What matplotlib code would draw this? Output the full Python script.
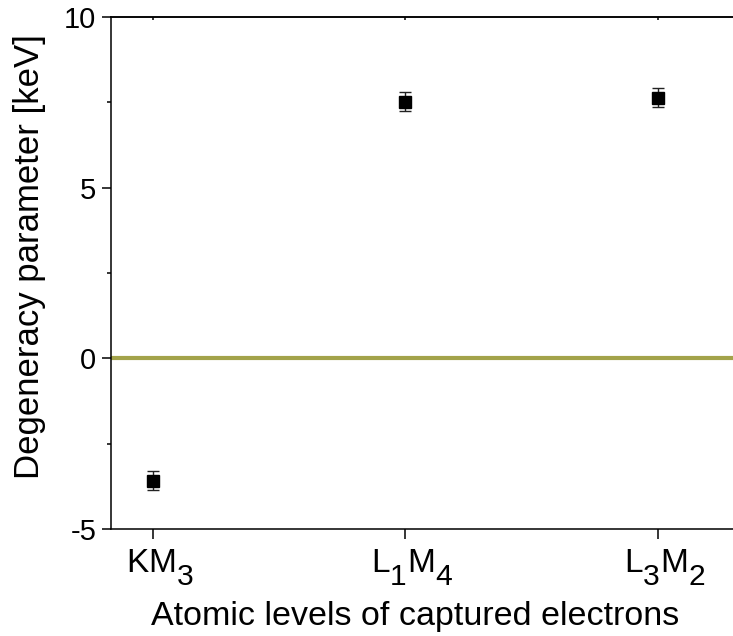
import matplotlib
matplotlib.use("Agg")
import matplotlib.pyplot as plt
import matplotlib._mathtext as _mt
from matplotlib.ticker import MultipleLocator
from matplotlib.transforms import ScaledTranslation

plt.rcParams['font.family'] = ['Liberation Sans', 'DejaVu Sans']
plt.rcParams['mathtext.fontset'] = 'custom'
plt.rcParams['mathtext.rm'] = 'Liberation Sans'
plt.rcParams['mathtext.it'] = 'Liberation Sans'
plt.rcParams['axes.unicode_minus'] = False

# Large, low-set subscripts for the level names
_mt.SHRINK_FACTOR = 0.9
_mt.FontConstantsBase.sub1 = 0.75

# Degeneracy parameter per pair of captured-electron levels
levels = [r'$\mathregular{KM_3}$', r'$\mathregular{L_1M_4}$', r'$\mathregular{L_3M_2}$']
degeneracy_kev = [-3.58, 7.52, 7.64]
degeneracy_err = [0.28, 0.28, 0.28]

fig = plt.figure(figsize=(7.33, 6.36), dpi=100)
ax = fig.add_axes([111 / 733, 1 - 529 / 636, 1 - 111 / 733 + 0.001, (529 - 17) / 636])

x = list(range(len(levels)))
ax.axhline(0, color='#a3a34a', lw=3, zorder=1)
ax.errorbar(x, degeneracy_kev, yerr=degeneracy_err, fmt='s', color='black',
            ms=8, ecolor='#222222', elinewidth=1.0, capsize=4, capthick=1.0, zorder=3)

ax.set_xlim(-0.168, 2.302)
ax.set_ylim(-5, 10)
ax.set_xticks(x)
ax.set_xticklabels(levels)
ax.yaxis.set_major_locator(MultipleLocator(5))
ax.yaxis.set_minor_locator(MultipleLocator(2.5))

for s in ['left', 'bottom', 'top']:
    ax.spines[s].set_linewidth(1.1)
ax.spines['right'].set_visible(False)

ax.tick_params(axis='y', which='major', direction='out', length=6.5, width=1.1,
               labelsize=21, pad=4)
ax.tick_params(axis='y', which='minor', direction='out', length=3, width=1.1)
ax.tick_params(axis='x', which='major', direction='out', length=7, width=1.1,
               labelsize=24, pad=6)
ax.tick_params(axis='x', which='minor', bottom=False)

# nudge the level names slightly to the right of their ticks
shift = ScaledTranslation(7 / 100, 0, fig.dpi_scale_trans)
for lab in ax.get_xticklabels():
    lab.set_transform(lab.get_transform() + shift)

# small inward marks on the top frame at each level
top = ax.secondary_xaxis('top')
top.set_xticks(x)
top.tick_params(direction='in', length=2, width=1.1, labeltop=False)
top.spines['top'].set_linewidth(1.1)

ax.set_xlabel('Atomic levels of captured electrons', fontsize=24.5)
ax.set_ylabel('Degeneracy parameter [keV]', fontsize=25)
ax.xaxis.set_label_coords(0.489, -0.141)
ax.yaxis.set_label_coords(-0.104, 0.533)

fig.savefig('out.png', dpi=100)
